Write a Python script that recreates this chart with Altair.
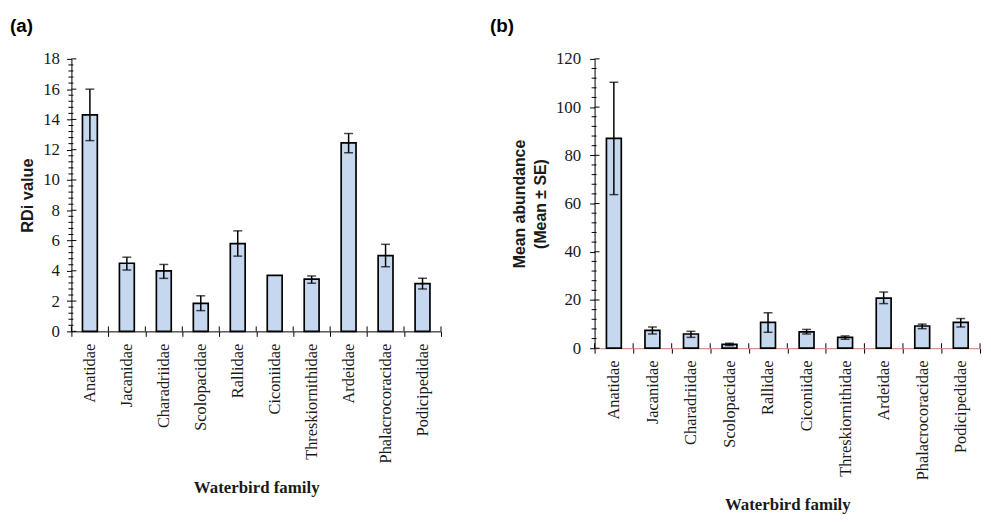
import altair as alt
import pandas as pd

families = ["Anatidae", "Jacanidae", "Charadriidae", "Scolopacidae", "Rallidae",
            "Ciconiidae", "Threskiornithidae", "Ardeidae", "Phalacrocoracidae", "Podicipedidae"]

# Panel (a): RDi value
rdi_mean = [14.3, 4.5, 4.0, 1.85, 5.8, 3.7, 3.45, 12.45, 5.0, 3.15]
rdi_low = [12.6, 4.05, 3.5, 1.37, 4.97, None, 3.18, 11.8, 4.27, 2.8]
rdi_high = [16.0, 4.9, 4.42, 2.35, 6.64, None, 3.66, 13.07, 5.75, 3.51]
rdi_ticks = [0, 2, 4, 6, 8, 10, 12, 14, 16, 18]

# Panel (b): Mean abundance
ab_mean = [87.0, 7.4, 5.9, 1.6, 10.7, 6.8, 4.5, 20.8, 9.2, 10.7]
ab_low = [63.7, 5.9, 4.5, 1.1, 6.6, 5.9, 3.7, 18.5, 8.1, 8.8]
ab_high = [110.3, 8.8, 7.0, 2.05, 14.7, 7.8, 5.1, 23.3, 10.0, 12.3]
ab_ticks = [0, 20, 40, 60, 80, 100, 120]

SERIF = "Liberation Serif"
SANS = "Liberation Sans"
BAR_FILL = "#c6d8ef"
INK = "#1a1a1a"


def panel(mean, low, high, ticks, n_minor, w, h, ytitle, ytsize, ylabpad, tag,
          xdomain_color, tdx):
    df = pd.DataFrame({"family": families, "mean": mean})
    err = pd.DataFrame([{"family": f, "low": lo, "high": hi}
                        for f, lo, hi in zip(families, low, high) if lo is not None])
    step = ticks[1] - ticks[0]
    minor = [t + step * k / n_minor for t in ticks[:-1] for k in range(1, n_minor)]
    yscale = alt.Scale(domain=[ticks[0], ticks[-1]], nice=False, zero=True)
    xscale = alt.Scale(paddingInner=0, paddingOuter=0)

    xaxis = alt.Axis(title="Waterbird family", labelAngle=270, tickBand="extent",
                     labelFont=SERIF, labelFontSize=16.5, labelColor=INK, labelPadding=7,
                     tickSize=5, tickColor="black", domainColor=xdomain_color,
                     titleFont=SERIF, titleFontSize=17, titleFontWeight="bold",
                     titleColor=INK, titlePadding=17, grid=False)
    yaxis = alt.Axis(values=ticks, title=ytitle, titleFont=SANS, titleFontSize=ytsize,
                     titleFontWeight="bold", titleColor=INK, titlePadding=7,
                     titleLineHeight=21,
                     labelFont=SERIF, labelFontSize=17, labelColor=INK, labelPadding=ylabpad,
                     tickSize=5, tickColor="black", domainColor="black", grid=False)

    def X(**kw):
        return alt.X("family:N", sort=families, scale=xscale, axis=xaxis, **kw)

    def Y(field):
        return alt.Y(field, scale=yscale, axis=yaxis)

    bars = alt.Chart(df).mark_bar(size=15, fill=BAR_FILL, stroke="black", strokeWidth=1.7).encode(
        x=X(), y=Y("mean:Q"))
    stems = alt.Chart(err).mark_rule(color="black", strokeWidth=1.5).encode(
        x=X(), y=Y("low:Q"), y2="high:Q")
    cap_lo = alt.Chart(err).mark_tick(color="black", size=9, thickness=1.5, orient="horizontal").encode(
        x=X(), y=Y("low:Q"))
    cap_hi = alt.Chart(err).mark_tick(color="black", size=9, thickness=1.5, orient="horizontal").encode(
        x=X(), y=Y("high:Q"))

    major_in = alt.Chart(pd.DataFrame({"v": ticks})).mark_rule(color="black", strokeWidth=1).encode(
        y=Y("v:Q"), x=alt.value(0), x2=alt.value(5))
    minor_t = alt.Chart(pd.DataFrame({"v": minor})).mark_rule(color="black", strokeWidth=1).encode(
        y=Y("v:Q"), x=alt.value(-3), x2=alt.value(2))
    xin_a = alt.Chart(df).mark_rule(color="black", strokeWidth=1).encode(
        x=X(bandPosition=0), y=alt.value(h), y2=alt.value(h - 5))
    xin_b = alt.Chart(df.tail(1)).mark_rule(color="black", strokeWidth=1).encode(
        x=X(bandPosition=1), y=alt.value(h), y2=alt.value(h - 5))

    return alt.layer(bars, stems, cap_lo, cap_hi, major_in, minor_t, xin_a, xin_b).properties(
        width=w, height=h,
        title=alt.TitleParams(tag, anchor="start", frame="bounds", dx=tdx, offset=14,
                              font=SANS, fontSize=19, fontWeight="bold", color="black"),
    )


pa = panel(rdi_mean, rdi_low, rdi_high, rdi_ticks, 5, 373, 275, "RDi value", 16.5, 7,
           "(a)", "black", -10)
pb = panel(ab_mean, ab_low, ab_high, ab_ticks, 5, 389, 292,
           ["Mean  abundance", "(Mean \u00b1 SE)"], 16, 9, "(b)", "#c87a6e", -22)

chart = alt.hconcat(pa, pb, spacing=48).properties(
    padding={"left": 2, "top": 7, "right": 2, "bottom": 2},
    background="white",
).configure_view(stroke=None)

chart.save("out.html", embed_options={"renderer": "svg", "actions": False})
